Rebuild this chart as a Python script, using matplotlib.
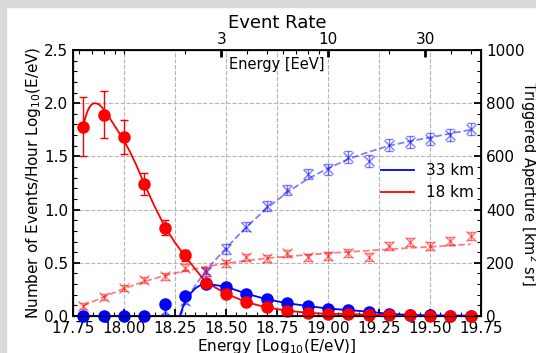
import numpy as np
import matplotlib
matplotlib.use("Agg")
import matplotlib.pyplot as plt
from matplotlib.patches import Rectangle
from matplotlib.ticker import MultipleLocator, FixedLocator
from matplotlib.lines import Line2D

# ---- data ----
energy = [17.8, 17.9, 18.0, 18.1, 18.2, 18.3, 18.4, 18.5, 18.6, 18.7,
          18.8, 18.9, 19.0, 19.1, 19.2, 19.3, 19.4, 19.5, 19.6, 19.7]

rate_18 = [1.78, 1.89, 1.68, 1.24, 0.83, 0.57, 0.31, 0.21, 0.13, 0.08,
           0.05, 0.03, 0.02, 0.02, 0.01, 0.01, 0.005, 0.003, 0.002, 0.001]
rate_18_err = [0.28, 0.22, 0.16, 0.10, 0.07, 0.05, 0.03, 0.02, 0.015, 0.01,
               0.01, 0.005, 0.005, 0.005, 0.003, 0.003, 0.002, 0.001, 0.001, 0.001]
rate_33 = [0.0, 0.0, 0.0, 0.0, 0.11, 0.19, 0.30, 0.275, 0.21, 0.157,
           0.12, 0.094, 0.07, 0.056, 0.04, 0.02, 0.01, 0.005, 0.004, 0.003]

# fitted event-rate curves
fit18_x = [17.8, 17.81, 17.82, 17.83, 17.84, 17.85, 17.86, 17.87, 17.88, 17.89,
           17.9, 17.92, 17.94, 17.96, 17.98, 18.0, 18.03, 18.06, 18.1, 18.15,
           18.2, 18.25, 18.3, 18.35, 18.4, 18.5, 18.6, 18.7, 18.8, 18.9,
           19.0, 19.1, 19.2, 19.3, 19.4, 19.5, 19.6, 19.7]
fit18_y = [1.78, 1.86, 1.92, 1.96, 1.985, 1.998, 2.0, 1.995, 1.985, 1.965,
           1.94, 1.89, 1.83, 1.77, 1.71, 1.65, 1.54, 1.42, 1.24, 1.03,
           0.84, 0.69, 0.56, 0.44, 0.32, 0.21, 0.13, 0.08, 0.05, 0.03,
           0.02, 0.02, 0.01, 0.01, 0.005, 0.003, 0.002, 0.001]
fit33_x = [18.273, 18.29, 18.31, 18.33, 18.35, 18.37, 18.4, 18.5, 18.6, 18.7,
           18.8, 18.9, 19.0, 19.1, 19.2, 19.3, 19.4, 19.5, 19.6, 19.7]
fit33_y = [0.0, 0.09, 0.16, 0.22, 0.26, 0.285, 0.305, 0.275, 0.21, 0.157,
           0.12, 0.094, 0.07, 0.056, 0.04, 0.02, 0.01, 0.005, 0.004, 0.003]

# triggered aperture [km^2 sr]
ap_x33 = [18.2, 18.3, 18.4, 18.5, 18.6, 18.7, 18.8, 18.9, 19.0, 19.1,
          19.2, 19.3, 19.4, 19.5, 19.6, 19.7]
ap_33 = [20, 58, 165, 252, 336, 414, 474, 534, 551, 597,
         584, 643, 655, 665, 680, 702]
ap_33_err = [12, 14, 16, 18, 18, 20, 20, 20, 22, 22, 22, 22, 22, 22, 22, 22]
ap_18 = [38, 70, 106, 135, 150, 182, 170, 198, 220, 217,
         236, 220, 225, 238, 221, 263, 278, 263, 282, 301]
ap_18_err = [10, 11, 12, 12, 13, 13, 13, 14, 14, 14,
             14, 14, 14, 15, 15, 15, 15, 15, 15, 16]

apfit33_x = [18.28, 18.3, 18.4, 18.5, 18.6, 18.7, 18.8, 18.9, 19.0, 19.1,
             19.2, 19.3, 19.4, 19.5, 19.6, 19.7]
apfit33_y = [0, 60, 170, 255, 335, 405, 465, 515, 555, 590,
             617, 640, 657, 671, 686, 700]
apfit18_y = [38, 72, 103, 130, 152, 170, 185, 198, 208, 217,
             224, 230, 236, 241, 246, 251, 256, 260, 265, 270]

top_major = [3, 10, 30]
top_minor = [0.6, 0.7, 0.8, 0.9, 1, 2, 4, 5, 6, 7, 8, 9, 20, 40, 50]

# ---- figure ----
plt.rcParams['font.family'] = ['DejaVu Sans']
fig = plt.figure(figsize=(5.36, 3.53), dpi=100)
ax = fig.add_axes([73/536, 1-316/353, 408/536, 266/353])

ax.plot(fit18_x, fit18_y, color='red', lw=1.3, zorder=3)
ax.plot(fit33_x, fit33_y, color='blue', lw=1.3, zorder=3)
ax.errorbar(energy, rate_18, yerr=rate_18_err, fmt='o', color='red', ms=8,
            capsize=3, elinewidth=1, zorder=4, clip_on=False)
ax.plot(energy, rate_33, 'o', color='blue', ms=8, zorder=4, clip_on=False)

ax.set_xlim(17.75, 19.75)
ax.set_ylim(0, 2.5)
ax.xaxis.set_major_locator(MultipleLocator(0.25))
ax.xaxis.set_minor_locator(MultipleLocator(0.05))
ax.yaxis.set_major_locator(MultipleLocator(0.5))
ax.yaxis.set_minor_locator(MultipleLocator(0.1))
ax.grid(True, ls='--', color='#b5b5b5', lw=0.8)
ax.tick_params(which='both', direction='in', labelsize=11, bottom=True, left=True, top=False, right=False)
ax.tick_params(which='major', length=5, width=1.3)
ax.tick_params(which='minor', length=3, width=0.8)
ax.set_xlabel('Energy [Log$_{10}$(E/eV)]', fontsize=11, labelpad=1)
ax.set_ylabel('Number of Events/Hour Log$_{10}$(E/eV)', fontsize=11, labelpad=1)
for s in ax.spines.values():
    s.set_linewidth(1.3)

ax2 = ax.twinx()
ax2.set_ylim(0, 1000)
ax2.plot(apfit33_x, apfit33_y, '--', color='blue', alpha=0.5, lw=1.3)
ax2.plot(energy, apfit18_y, '--', color='red', alpha=0.5, lw=1.3)
ax2.errorbar(ap_x33, ap_33, yerr=ap_33_err, fmt='x', color='blue', alpha=0.5,
             ms=7, capsize=3, elinewidth=1)
ax2.errorbar(energy, ap_18, yerr=ap_18_err, fmt='x', color='red', alpha=0.5,
             ms=7, capsize=3, elinewidth=1)
ax2.yaxis.set_major_locator(MultipleLocator(200))
ax2.yaxis.set_minor_locator(MultipleLocator(40))
ax2.tick_params(which='both', direction='in', labelsize=11)
ax2.tick_params(which='major', length=5, width=1.3)
ax2.tick_params(which='minor', length=3, width=0.8)
ax2.set_ylabel('Triggered Aperture [km$^2$ sr]', fontsize=10.5, rotation=270, labelpad=11)

ax3 = ax.twiny()
ax3.set_xlim(17.75, 19.75)
ax3.xaxis.set_major_locator(FixedLocator([np.log10(e * 1e18) for e in top_major]))
ax3.set_xticklabels([str(e) for e in top_major])
ax3.xaxis.set_minor_locator(FixedLocator([np.log10(e * 1e18) for e in top_minor]))
ax3.tick_params(which='both', direction='in', labelsize=11, pad=2)
ax3.tick_params(which='major', length=5, width=2)
ax3.tick_params(which='minor', length=3, width=0.8)
ax3.set_title('Event Rate', fontsize=13, pad=1)
ax.text(0.5, 0.975, 'Energy [EeV]', transform=ax.transAxes, ha='center', va='top', fontsize=10.5)

handles = [Line2D([], [], color='blue', lw=1.3), Line2D([], [], color='red', lw=1.3)]
ax3.legend(handles, ['33 km', '18 km'], frameon=False, fontsize=11,
           loc='center left', bbox_to_anchor=(0.72, 0.505), handlelength=2.2)

# grey frame at top and left of the picture
fig.patches.append(Rectangle((0, 1-7/353), 1, 7/353, transform=fig.transFigure,
                             color='#d9d9d9', zorder=10))
fig.patches.append(Rectangle((0, 0), 6/536, 1, transform=fig.transFigure,
                             color='#d9d9d9', zorder=10))

fig.savefig('out.png', dpi=100)
